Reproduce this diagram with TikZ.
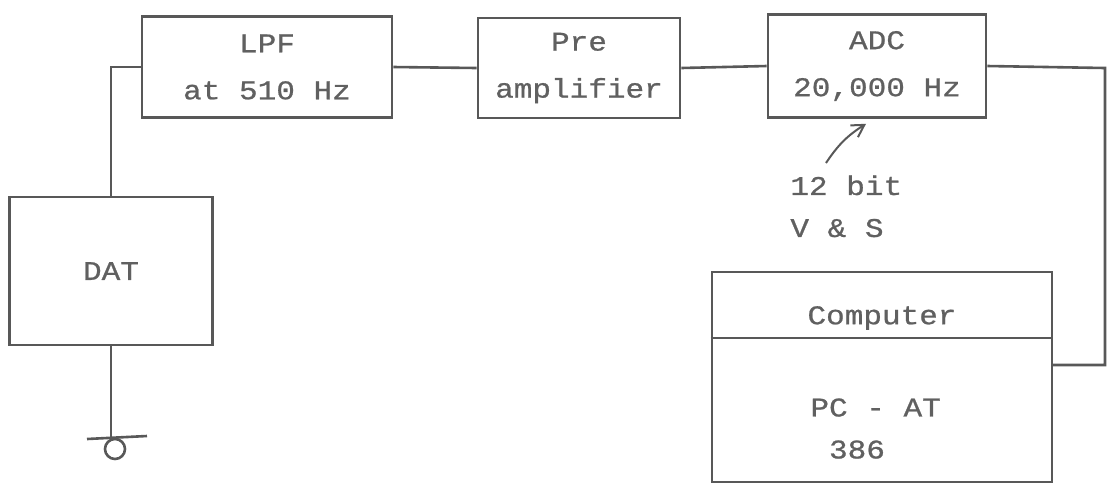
\documentclass[tikz,border=0pt]{standalone}
\usepackage{fontspec}
\newfontfamily\typew[FakeStretch=1.15,FakeBold=0.8]{Liberation Mono}
\usepackage{xcolor}
\definecolor{pencil}{RGB}{88,88,88}
\definecolor{inkgray}{RGB}{96,96,96}
\usetikzlibrary{arrows.meta,positioning,calc}

\begin{document}
\begin{tikzpicture}[x=0.5pt,y=-0.5pt,
  block/.style={draw=pencil,line width=1.3pt,text=inkgray,align=center,inner sep=0pt,
    font=\typew\fontsize{13.5}{23.5}\selectfont},
  wire/.style={pencil,line width=1.3pt},
  note/.style={text=inkgray,align=left,inner sep=0pt,font=\typew\fontsize{13.5}{21}\selectfont}]
  \useasboundingbox (0,0) rectangle (1108,484);
  % Signal chain along the top
  \node[block,minimum width=125pt,minimum height=50.5pt] (lpf) at (267,67) {LPF\\at 510 Hz};
  \node[block,minimum width=101pt,minimum height=50pt] (pre) at (579,68) {Pre\\amplifier};
  \node[block,minimum width=109pt,minimum height=51.5pt] (adc) at (877,66) {ADC\\20,000 Hz};
  % Recorder
  \node[block,minimum width=101.5pt,minimum height=74pt] (dat) at (111,271) {DAT};
  % Computer box with its header line
  \node[block,minimum width=170pt,minimum height=105pt] (comp) at (882,377) {};
  \node[note] (comphead) at (882,318) {Computer};
  \node[note,anchor=north west,text depth=0pt] (compbody) at (810,398) {PC - AT\\\phantom{P}386};
  \draw[wire] (comp.west |- 0,338) -- (comp.east |- 0,338);
  % Resolution note
  \node[note,anchor=north west] (bits) at (790,175) {12 bit\\V \& S};
  % Connections
  \draw[wire] (dat.north) |- (lpf.west);
  \draw[wire] (lpf.east) -- (pre.west);
  \draw[wire] (pre.east) -- (adc.west);
  \coordinate (rt) at (1105,68);
  \coordinate (cin) at (1052,365);
  \draw[wire] (adc.east) -- (rt) |- (cin);
  \draw[wire,line width=1pt,-{Straight Barb[length=6pt,width=7pt]}]
    ($(bits.north west)+(36,-12)$) to[bend left=12] ($(adc.south)+(-11,5)$);
  % Ground
  \coordinate (gnd) at (111,438);
  \draw[wire] (dat.south) -- (gnd);
  \draw[wire] ($(gnd)+(-24,1)$) -- ($(gnd)+(36,-2)$);
  \draw[wire] ($(gnd)+(4,11)$) circle[radius=5pt];
\end{tikzpicture}
\end{document}
